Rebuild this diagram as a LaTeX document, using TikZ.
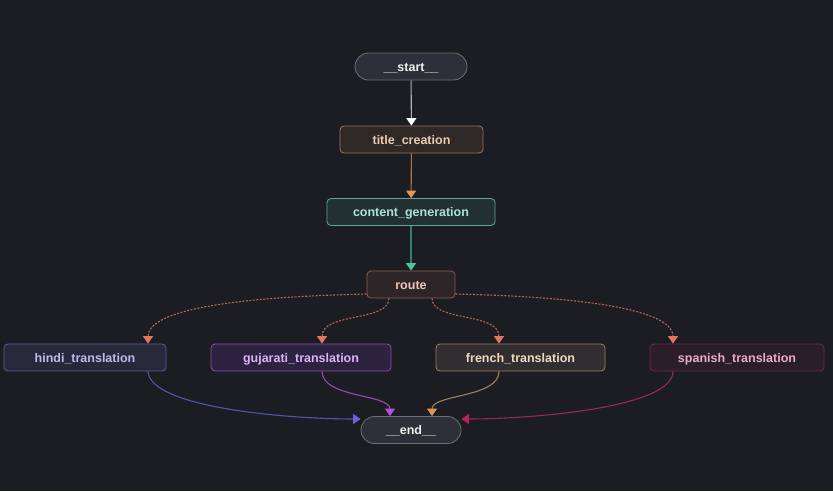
\documentclass[tikz,border=0pt]{standalone}
\usepackage{fontspec}
\setmainfont{Liberation Sans}
\usepackage{tikz}
\usetikzlibrary{arrows.meta}

\definecolor{bgc}{HTML}{1B1D23}
\definecolor{termfill}{HTML}{2D3038}
\definecolor{termline}{HTML}{6C707A}
\definecolor{titlefill}{HTML}{2E2827}
\definecolor{titleline}{HTML}{9C7660}
\definecolor{titletext}{HTML}{EACBB0}
\definecolor{titleedge}{HTML}{B07650}
\definecolor{titletip}{HTML}{E09A50}
\definecolor{contfill}{HTML}{213030}
\definecolor{contline}{HTML}{5AA898}
\definecolor{conttext}{HTML}{ACE2D2}
\definecolor{contedge}{HTML}{2E8070}
\definecolor{conttip}{HTML}{4CC49E}
\definecolor{routefill}{HTML}{2E2528}
\definecolor{routeline}{HTML}{8A5A52}
\definecolor{routetext}{HTML}{F2C6BA}
\definecolor{routeedge}{HTML}{B06A58}
\definecolor{routetip}{HTML}{E07858}
\definecolor{hindifill}{HTML}{272839}
\definecolor{hindiline}{HTML}{5E5E9E}
\definecolor{hinditext}{HTML}{BCBCEA}
\definecolor{hinditip}{HTML}{6E62D8}
\definecolor{gujfill}{HTML}{2C2340}
\definecolor{gujline}{HTML}{8E50B0}
\definecolor{gujtext}{HTML}{DAB4F2}
\definecolor{gujtip}{HTML}{B050E0}
\definecolor{frfill}{HTML}{302E30}
\definecolor{frline}{HTML}{A08062}
\definecolor{frtext}{HTML}{F0DABC}
\definecolor{frtip}{HTML}{D8965A}
\definecolor{spfill}{HTML}{2A1E29}
\definecolor{spline}{HTML}{6E2A42}
\definecolor{sptext}{HTML}{EAAACA}
\definecolor{spedge}{HTML}{98285A}
\definecolor{sptip}{HTML}{C0205A}

\tikzset{
  box/.style={draw, rounded corners=4pt, line width=0.8pt, minimum height=27pt,
    font=\fontsize{12.5}{14}\selectfont\bfseries, inner sep=0pt,
    text height=10pt, text depth=1pt},
  term/.style={box, fill=termfill, draw=termline, text=white!94!black,
    rounded corners=13.5pt, minimum width=112pt},
  tip/.style={line width=1.1pt, draw=#1!80!black,
    -{Triangle[length=7.5pt,width=10pt,fill=#1,color=#1]}},
  cond/.style={tip=routetip, draw=routeedge, dash pattern=on 2pt off 1.5pt},
}

\begin{document}
\begin{tikzpicture}[x=1pt,y=-1pt]
\fill[bgc] (0,0) rectangle (833,491);
\useasboundingbox (0,0) rectangle (833,491);

\node[term]                                                          (start) at (411,66.5) {\_\_start\_\_};
\node[box, fill=titlefill, draw=titleline, text=titletext, minimum width=143pt] (title) at (411.5,139.5) {title\_creation};
\node[box, fill=contfill, draw=contline, text=conttext, minimum width=168pt]     (content) at (411,212) {content\_generation};
\node[box, fill=routefill, draw=routeline, text=routetext, minimum width=88pt]   (route) at (411,284.5) {route};
\node[box, fill=hindifill, draw=hindiline, text=hinditext, minimum width=162pt]  (hindi) at (85,357.5) {hindi\_translation};
\node[box, fill=gujfill, draw=gujline, text=gujtext, minimum width=180pt]        (gujarati) at (301,357.5) {gujarati\_translation};
\node[box, fill=frfill, draw=frline, text=frtext, minimum width=169pt]           (french) at (520.5,357.5) {french\_translation};
\node[box, fill=spfill, draw=spline, text=sptext, minimum width=174pt]           (spanish) at (737,357.5) {spanish\_translation};
\node[term, minimum width=100pt]                                     (end) at (411,430) {\_\_end\_\_};

% straight part
\draw[tip=white, draw=gray!60!white] (start) -- (title);
\draw[tip=titletip, draw=titleedge] (title) -- (content);
\draw[tip=conttip, draw=contedge] (content) -- (route);

% conditional branches
\draw[cond] (route.west|-0,294) .. controls (190,298) and (148,318) .. (hindi.north-|148,0);
\draw[cond] (route.south-|389,0) .. controls (389,322) and (322,312) .. (gujarati.north-|322,0);
\draw[cond] (route.south-|432,0) .. controls (432,322) and (499,312) .. (french.north-|499,0);
\draw[cond] (route.east|-0,294) .. controls (630,298) and (673,318) .. (spanish.north-|673,0);

% into end
\draw[tip=hinditip, draw=hindiline!90!blue]
  (hindi.south-|148,0) .. controls (150,408) and (290,419) .. (end.west|-0,419);
\draw[tip=gujtip, draw=gujline]
  (gujarati.south-|322,0) .. controls (322,398) and (390,394) .. (end.north-|390,0);
\draw[tip=frtip, draw=frline]
  (french.south-|499,0) .. controls (499,398) and (432,394) .. (end.north-|432,0);
\draw[tip=sptip, draw=spedge]
  (spanish.south-|673,0) .. controls (673,408) and (530,419) .. (end.east|-0,419);
\end{tikzpicture}
\end{document}
